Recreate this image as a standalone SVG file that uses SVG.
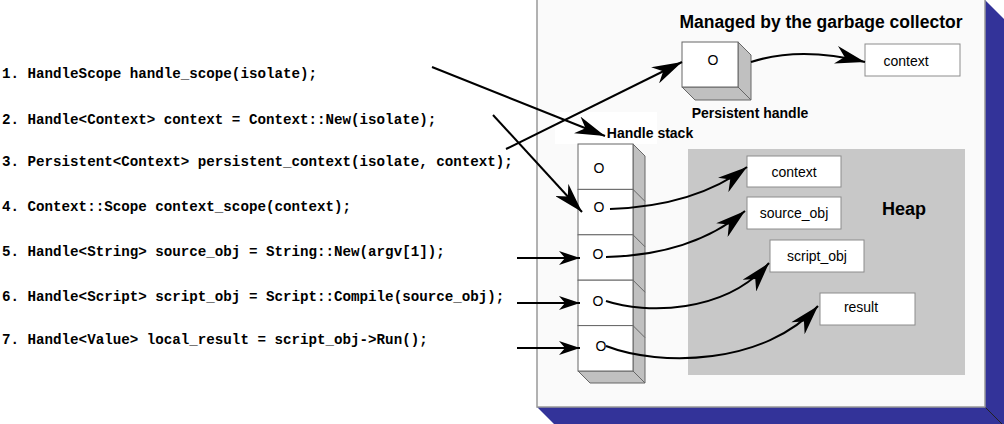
<svg xmlns="http://www.w3.org/2000/svg" width="1004" height="424" viewBox="0 0 1004 424">
<style>
.code{font-family:"Liberation Mono","Courier New",monospace;font-weight:bold;font-size:14.2px;fill:#000}
.lbl{font-family:"Liberation Sans",Arial,sans-serif;font-size:14px;fill:#000}
.bold{font-family:"Liberation Sans",Arial,sans-serif;font-weight:bold;fill:#000}
.box{fill:#fff;stroke:#8c8c8c;stroke-width:1}
.face{fill:#fff;stroke:#666;stroke-width:1}
.side{fill:#c0c0c0;stroke:#666;stroke-width:1}
.conn{fill:none;stroke:#000;stroke-width:2}
</style>
<defs>
<marker id="big" markerUnits="userSpaceOnUse" markerWidth="32" markerHeight="18" refX="30" refY="9" orient="auto">
<path d="M0,0 L30,9 L0,18 L9,9 z" fill="#000"/>
</marker>
<marker id="small" markerUnits="userSpaceOnUse" markerWidth="22" markerHeight="14" refX="21" refY="7" orient="auto">
<path d="M0,0 L21,7 L0,14 L6,7 z" fill="#000"/>
</marker>
</defs>
<rect width="1004" height="424" fill="#fff"/>
<g id="panel">
<polygon points="985,0 1004,19 1004,424 554,424 537,407 985,407" fill="#333399"/>
<line x1="985" y1="407" x2="1002" y2="424" stroke="#222" stroke-width="1"/>
<rect x="537" y="-1" width="448" height="408" fill="#fafafa" stroke="#999" stroke-width="1.5"/>
<text class="bold" x="821" y="28" font-size="17.5" text-anchor="middle">Managed by the garbage collector</text>
</g>
<g id="heap">
<rect x="688" y="149" width="277" height="226" fill="#c8c8c8"/>
<text class="bold" x="904" y="215" font-size="18" text-anchor="middle">Heap</text>
</g>
<g id="code">
<text class="code" x="2" y="78">1. HandleScope handle_scope(isolate);</text>
<text class="code" x="2" y="124">2. Handle&lt;Context&gt; context = Context::New(isolate);</text>
<text class="code" x="2" y="166">3. Persistent&lt;Context&gt; persistent_context(isolate, context);</text>
<text class="code" x="2" y="211">4. Context::Scope context_scope(context);</text>
<text class="code" x="2" y="256">5. Handle&lt;String&gt; source_obj = String::New(argv[1]);</text>
<text class="code" x="2" y="301">6. Handle&lt;Script&gt; script_obj = Script::Compile(source_obj);</text>
<text class="code" x="2" y="344">7. Handle&lt;Value&gt; local_result = script_obj-&gt;Run();</text>
</g>
<g id="persistent-handle">
<polygon class="side" points="682,87 738,87 751,100 695,100"/>
<polygon class="side" points="738,42 751,55 751,100 738,87"/>
<rect class="face" x="682" y="42" width="56" height="45"/>
<text class="lbl" x="713" y="65" text-anchor="middle">O</text>
<text class="bold" x="750" y="118" font-size="14" text-anchor="middle">Persistent handle</text>
</g>
<g id="gc-context">
<rect class="box" x="865" y="44" width="95" height="32"/>
<text class="lbl" x="906" y="66" text-anchor="middle">context</text>
</g>
<g id="handle-stack">
<rect x="555" y="112" width="102" height="32" fill="#fff"/>
<text class="bold" x="650" y="138" font-size="14" text-anchor="middle">Handle stack</text>
<polygon class="side" points="578,371 633,371 645,383 590,383"/>
<polygon class="side" points="633,144 645,156 645,383 633,371"/>
<line x1="633" y1="189.4" x2="645" y2="201.4" stroke="#666"/>
<line x1="633" y1="234.8" x2="645" y2="246.8" stroke="#666"/>
<line x1="633" y1="280.2" x2="645" y2="292.2" stroke="#666"/>
<line x1="633" y1="325.6" x2="645" y2="337.6" stroke="#666"/>
<rect class="face" x="578" y="144" width="55" height="45.4"/>
<rect class="face" x="578" y="189.4" width="55" height="45.4"/>
<rect class="face" x="578" y="234.8" width="55" height="45.4"/>
<rect class="face" x="578" y="280.2" width="55" height="45.4"/>
<rect class="face" x="578" y="325.6" width="55" height="45.4"/>
<text class="lbl" x="599" y="173" text-anchor="middle">O</text>
<text class="lbl" x="599" y="212" text-anchor="middle">O</text>
<text class="lbl" x="598" y="259" text-anchor="middle">O</text>
<text class="lbl" x="598" y="306" text-anchor="middle">O</text>
<text class="lbl" x="601" y="351" text-anchor="middle">O</text>
</g>
<g id="heap-context">
<rect class="box" x="747" y="156" width="94" height="31"/>
<text class="lbl" x="794" y="177" text-anchor="middle">context</text>
</g>
<g id="heap-source_obj">
<rect class="box" x="747" y="197" width="94" height="32"/>
<text class="lbl" x="794" y="218" text-anchor="middle">source_obj</text>
</g>
<g id="heap-script_obj">
<rect class="box" x="770" y="240" width="94" height="32"/>
<text class="lbl" x="817" y="261" text-anchor="middle">script_obj</text>
</g>
<g id="heap-result">
<rect class="box" x="820" y="293" width="95" height="32"/>
<text class="lbl" x="861" y="312" text-anchor="middle">result</text>
</g>
<g id="connectors">
<line class="conn" x1="432" y1="67" x2="605" y2="136" marker-end="url(#big)"/>
<line class="conn" x1="493" y1="115" x2="582" y2="212" marker-end="url(#big)"/>
<line class="conn" x1="506" y1="149" x2="682" y2="62" marker-end="url(#big)"/>
<line class="conn" x1="517" y1="258" x2="580" y2="258" marker-end="url(#small)"/>
<line class="conn" x1="517" y1="303" x2="580" y2="303" marker-end="url(#small)"/>
<line class="conn" x1="517" y1="348" x2="580" y2="348" marker-end="url(#small)"/>
<path class="conn" d="M751,62 Q800,46 865,62" marker-end="url(#big)"/>
<path class="conn" d="M610,209 Q695,206 747,167" marker-end="url(#big)"/>
<path class="conn" d="M606,257 Q692,255 745,211" marker-end="url(#big)"/>
<path class="conn" d="M606,301 C645,314 725,314 769,263" marker-end="url(#big)"/>
<path class="conn" d="M606,346 C660,367 765,365 818,306" marker-end="url(#big)"/>
</g>
</svg>
